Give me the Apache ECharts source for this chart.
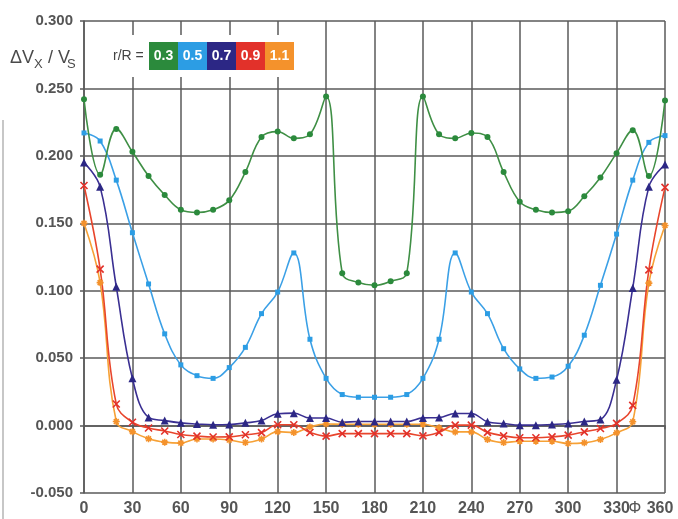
<!DOCTYPE html>
<html>
<head>
<meta charset="utf-8">
<script src="https://cdn.jsdelivr.net/npm/echarts@6/dist/echarts.min.js"></script>
<style>
  html, body { margin: 0; padding: 0; background: #ffffff; }
  #chart { width: 678px; height: 519px; }
</style>
</head>
<body>
<div id="chart"></div>
<script>
// Blade angle Φ (degrees), one sample every 10°
const phi = [0, 10, 20, 30, 40, 50, 60, 70, 80, 90, 100, 110, 120, 130, 140, 150, 160, 170, 180,
             190, 200, 210, 220, 230, 240, 250, 260, 270, 280, 290, 300, 310, 320, 330, 340, 350, 360];

// ΔVx / Vs for each radius ratio r/R
const r03 = [0.242, 0.186, 0.220, 0.203, 0.185, 0.171, 0.160, 0.158, 0.160, 0.167, 0.188, 0.214, 0.218,
             0.213, 0.216, 0.244, 0.113, 0.106, 0.104, 0.107, 0.113, 0.244, 0.216, 0.213, 0.217, 0.214,
             0.188, 0.166, 0.160, 0.158, 0.159, 0.170, 0.184, 0.202, 0.219, 0.185, 0.241];
const r05 = [0.217, 0.211, 0.182, 0.143, 0.105, 0.068, 0.045, 0.037, 0.035, 0.043, 0.058, 0.083, 0.099,
             0.128, 0.064, 0.035, 0.023, 0.021, 0.021, 0.021, 0.023, 0.035, 0.064, 0.128, 0.099, 0.083,
             0.057, 0.042, 0.035, 0.036, 0.044, 0.067, 0.104, 0.142, 0.182, 0.210, 0.215];
const r07 = [0.195, 0.177, 0.103, 0.035, 0.006, 0.0037, 0.002, 0.0012, 0.0006, 0.0008, 0.002, 0.0037, 0.0088,
             0.0092, 0.0056, 0.0056, 0.0025, 0.003, 0.003, 0.003, 0.003, 0.0057, 0.006, 0.009, 0.009, 0.0028,
             0.0015, 0.0003, 0.0003, 0.0008, 0.0015, 0.003, 0.0045, 0.034, 0.102, 0.177, 0.1935];
const r09 = [0.178, 0.116, 0.016, 0.0025, -0.0018, -0.004, -0.0066, -0.0078, -0.0085, -0.0084, -0.0068, -0.0052, 0.0006,
             0.0006, -0.0051, -0.0078, -0.006, -0.006, -0.006, -0.006, -0.006, -0.0076, -0.005, 0.0003, 0.0003, -0.005,
             -0.0076, -0.009, -0.009, -0.0084, -0.0071, -0.0047, -0.0022, 0.0016, 0.015, 0.1155, 0.1766];
const r11 = [0.150, 0.106, 0.003, -0.0045, -0.0098, -0.0123, -0.013, -0.010, -0.010, -0.0107, -0.0125, -0.010, -0.0045,
             -0.0052, -0.001, 0.0012, 0.001, 0.001, 0.001, 0.001, 0.001, 0.001, -0.0017, -0.0047, -0.0047, -0.0103,
             -0.0126, -0.0116, -0.0116, -0.0116, -0.0133, -0.0128, -0.0103, -0.0054, 0.0028, 0.1056, 0.1484];

const ratioLabels = ['0.3', '0.5', '0.7', '0.9', '1.1'];
const yTicks = [-0.05, 0, 0.05, 0.1, 0.15, 0.2, 0.25, 0.3];
const xTicks = [0, 30, 60, 90, 120, 150, 180, 210, 240, 270, 300, 330, 360];

const swatch = ['#2b8a3c', '#2c9de4', '#2c2785', '#e2312a', '#f4922c'];
const lineCol = ['#3f8f45', '#3ba0e6', '#3a2f92', '#e8452c', '#f6a136'];

const axisGray = '#555555';
const gridGray = '#5a5a5a';
const labelFont = '"Liberation Sans", Arial, sans-serif';

const crossPath = 'path://M0,0L10,10M10,0L0,10';
const starPath = 'path://M0,5L10,5M5,0L5,10M1.5,1.5L8.5,8.5M8.5,1.5L1.5,8.5';

function pairs(vals) { return phi.map((p, i) => [p, vals[i]]); }

function makeSeries(vals, idx, symbol, size, stroked) {
  return {
    type: 'line',
    data: pairs(vals),
    smooth: 0.4,
    symbol: symbol,
    symbolSize: size,
    symbolKeepAspect: true,
    showAllSymbol: true,
    lineStyle: { color: lineCol[idx], width: 1.6 },
    itemStyle: stroked
      ? { color: swatch[idx], borderColor: swatch[idx], borderWidth: 1.6 }
      : { color: swatch[idx], borderWidth: 0 },
    emphasis: { disabled: true },
    animation: false
  };
}

const chart = echarts.init(document.getElementById('chart'), null, { renderer: 'canvas' });

// Legend block: white backing plus coloured swatches
const legendEls = [
  { type: 'rect', shape: { x: 100, y: 35, width: 200, height: 42 }, style: { fill: '#ffffff' }, z: 100 },
  { type: 'text', x: 113, y: 56, style: { text: 'r/R =', font: '14px "Liberation Sans", Arial, sans-serif', fill: '#444', textVerticalAlign: 'middle' }, z: 101 }
];
ratioLabels.forEach((t, i) => {
  legendEls.push({ type: 'rect', shape: { x: 149 + i * 29, y: 42, width: 29, height: 28 }, style: { fill: swatch[i] }, z: 101 });
  legendEls.push({ type: 'text', x: 149 + i * 29 + 14.5, y: 56.5,
    style: { text: t, font: 'bold 14px ' + labelFont, fill: '#ffffff', textAlign: 'center', textVerticalAlign: 'middle' }, z: 102 });
});

// Axis title ΔVx / Vs with subscripts
const titleFont = '18px "Liberation Sans", Arial, sans-serif';
const subFont = '13px "Liberation Sans", Arial, sans-serif';
const titleCol = '#4a4a4a';
const titleEls = [
  { type: 'text', x: 10, y: 67, style: { text: 'ΔV', font: titleFont, fill: titleCol, textVerticalAlign: 'bottom' }, z: 101 },
  { type: 'text', x: 34, y: 71, style: { text: 'X', font: subFont, fill: titleCol, textVerticalAlign: 'bottom' }, z: 101 },
  { type: 'text', x: 48, y: 67, style: { text: '/ V', font: titleFont, fill: titleCol, textVerticalAlign: 'bottom' }, z: 101 },
  { type: 'text', x: 67, y: 71, style: { text: 'S', font: subFont, fill: titleCol, textVerticalAlign: 'bottom' }, z: 101 }
];

const option = {
  backgroundColor: '#ffffff',
  animation: false,
  grid: { left: 84, right: 13, top: 21, bottom: 26, containLabel: false },
  xAxis: {
    type: 'value',
    min: 0, max: 360, interval: 30,
    axisLine: { show: true, lineStyle: { color: gridGray, width: 1.5 } },
    axisTick: { show: true, length: 4, lineStyle: { color: gridGray, width: 1.5 } },
    splitLine: { show: true, lineStyle: { color: gridGray, width: 1.5 } },
    axisLabel: {
      margin: 8,
      color: axisGray,
      fontFamily: labelFont,
      fontWeight: 'bold',
      fontSize: 16,
      formatter: v => {
        if (xTicks.indexOf(v) < 0) return '';
        return v === 360 ? '{last|360}' : String(v);
      },
      rich: {
        last: { padding: [0, 10, 0, 0], color: axisGray, fontFamily: labelFont, fontWeight: 'bold', fontSize: 16 }
      }
    }
  },
  yAxis: {
    type: 'value',
    min: -0.05, max: 0.3, interval: 0.05,
    axisLine: { show: true, lineStyle: { color: gridGray, width: 1.5 } },
    axisTick: { show: true, length: 4, lineStyle: { color: gridGray, width: 1.5 } },
    splitLine: { show: true, lineStyle: { color: gridGray, width: 1.5 } },
    axisLabel: {
      margin: 11,
      color: axisGray,
      fontFamily: labelFont,
      fontWeight: 'bold',
      fontSize: 15,
      formatter: v => {
        const t = yTicks.find(k => Math.abs(k - v) < 1e-9);
        return t === undefined ? '' : t.toFixed(3);
      }
    }
  },
  graphic: [
    ...legendEls,
    ...titleEls,
    { type: 'text', x: 635, y: 509, style: { text: 'Φ', font: '16px "Liberation Sans", Arial, sans-serif', fill: axisGray, textAlign: 'center', textVerticalAlign: 'middle' }, z: 101 },
    { type: 'line', shape: { x1: 3, y1: 120, x2: 3, y2: 519 }, style: { stroke: '#b5b5b5', lineWidth: 1.5 }, z: 1 }
  ],
  series: [
    makeSeries(r11, 4, starPath, 7, true),
    makeSeries(r09, 3, crossPath, 7, true),
    makeSeries(r07, 2, 'triangle', 8, false),
    makeSeries(r05, 1, 'rect', 5, false),
    makeSeries(r03, 0, 'circle', 6, false)
  ]
};

chart.setOption(option);
</script>
</body>
</html>
